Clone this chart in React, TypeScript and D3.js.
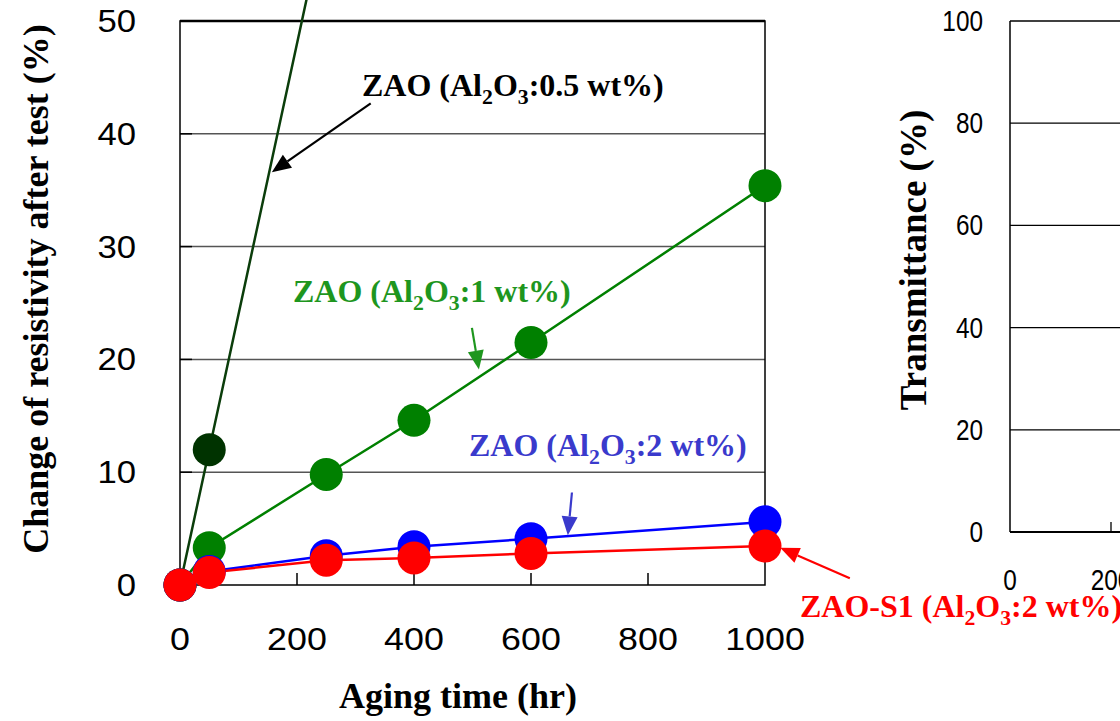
import * as d3 from "d3";
import React from "react";

// aging test data
const hours = [0, 50, 250, 400, 600, 1000];
const hours05 = [0, 50, 250];
const zao05 = [0, 12, 60];
const zao1 = [0, 3.3, 9.8, 14.6, 21.5, 35.4];
const zao2 = [0, 1.2, 2.6, 3.4, 4.1, 5.6];
const zaoS1 = [0, 1.1, 2.2, 2.4, 2.8, 3.45];

const xTicks = [0, 200, 400, 600, 800, 1000];
const yTicks = [0, 10, 20, 30, 40, 50];
const tTicks = [0, 20, 40, 60, 80, 100];
const tXTicks = [0, 200];

const serif = "'Liberation Serif', 'Times New Roman', serif";
const sans = "'Liberation Sans', Arial, sans-serif";

// label with Al2O3 subscripts
const Label = ({ x, y, pre, post, color, size }: any) => (
  <text x={x} y={y} fill={color} fontFamily={serif} fontWeight="bold" fontSize={size}>
    {pre}
    <tspan fontSize={size * 0.68} dy={8}>2</tspan>
    <tspan dy={-8}>O</tspan>
    <tspan fontSize={size * 0.68} dy={8}>3</tspan>
    <tspan dy={-8}>{post}</tspan>
  </text>
);

const Arrow = ({ x1, y1, x2, y2, color }: any) => {
  const a = Math.atan2(y2 - y1, x2 - x1);
  const L = 19, W = 8;
  const bx = x2 - L * Math.cos(a), by = y2 - L * Math.sin(a);
  const px = -Math.sin(a) * W, py = Math.cos(a) * W;
  return (
    <g>
      <line x1={x1} y1={y1} x2={bx} y2={by} stroke={color} strokeWidth={2.2} />
      <polygon points={`${x2},${y2} ${bx + px},${by + py} ${bx - px},${by - py}`} fill={color} />
    </g>
  );
};

export default function App() {
  const x = d3.scaleLinear().domain([0, 1000]).range([180, 765]);
  const y = d3.scaleLinear().domain([0, 50]).range([585, 21]);
  const tx = d3.scaleLinear().domain([0, 1000]).range([1010, 1515]);
  const ty = d3.scaleLinear().domain([0, 100]).range([532, 21]);

  const line = d3.line<number[]>().x((d) => x(d[0])).y((d) => y(d[1]));
  const pts = (hs: number[], vs: number[]) => hs.map((h, i) => [h, vs[i]]);

  const series = [
    { data: pts(hours05, zao05), line: "#0b3d0b", fill: "#003300" },
    { data: pts(hours, zao1), line: "#008000", fill: "#008000" },
    { data: pts(hours, zao2), line: "#0000ff", fill: "#0000ff" },
    { data: pts(hours, zaoS1), line: "#ff0000", fill: "#ff0000" },
  ];

  return (
    <svg width={1120} height={721} style={{ position: "absolute", left: 0, top: 0, background: "#fff" }}>
      {/* left chart grid */}
      {yTicks.slice(1, -1).map((t) => (
        <line key={t} x1={180} x2={765} y1={y(t)} y2={y(t)} stroke="#555" strokeWidth={1.5} />
      ))}
      {yTicks.slice(1, -1).map((t) => (
        <line key={"yt" + t} x1={180} x2={192} y1={y(t)} y2={y(t)} stroke="#000" strokeWidth={1.5} />
      ))}
      {xTicks.slice(1, -1).map((t) => (
        <line key={"xt" + t} x1={x(t)} x2={x(t)} y1={585} y2={573} stroke="#000" strokeWidth={1.5} />
      ))}
      <rect x={180} y={21} width={585} height={564} fill="none" stroke="#000" strokeWidth={1.5} />
      <line x1={180} x2={765} y1={21} y2={21} stroke="#000" strokeWidth={2.5} />

      {/* tick labels */}
      {yTicks.map((t) => (
        <text key={"yl" + t} transform={`translate(136,${y(t) + 11}) scale(1.12,1)`} textAnchor="end"
          fontFamily={sans} fontSize={31} fill="#000">{t}</text>
      ))}
      {xTicks.map((t) => (
        <text key={"xl" + t} transform={`translate(${x(t)},650) scale(1.12,1)`} textAnchor="middle"
          fontFamily={sans} fontSize={32} fill="#000">{t}</text>
      ))}

      {/* axis titles */}
      <text x={458} y={708} textAnchor="middle" fontFamily={serif} fontWeight="bold" fontSize={36}>Aging time (hr)</text>
      <text transform="translate(48,289) rotate(-90)" textAnchor="middle" fontFamily={serif} fontWeight="bold" fontSize={36}>
        Change of resistivity after test (%)
      </text>

      {/* series lines */}
      {series.map((s, i) => (
        <path key={"l" + i} d={line(s.data as any) || ""} fill="none" stroke={s.line} strokeWidth={2.5} />
      ))}
      {series.map((s, i) =>
        s.data.map((d, j) => (
          <circle key={`c${i}-${j}`} cx={x(d[0])} cy={y(d[1])} r={16.5} fill={s.fill} />
        ))
      )}

      {/* annotations */}
      <Label x={362} y={96} pre="ZAO (Al" post=":0.5 wt%)" color="#000" size={32} />
      <Arrow x1={x(326)} y1={y(42.7)} x2={x(157)} y2={y(36.6)} color="#000" />
      <Label x={293} y={302} pre="ZAO (Al" post=":1 wt%)" color="#1e961e" size={32} />
      <Arrow x1={x(499)} y1={y(22.8)} x2={x(511)} y2={y(19.1)} color="#1e961e" />
      <Label x={469} y={456} pre="ZAO (Al" post=":2 wt%)" color="#3a3acc" size={32} />
      <Arrow x1={x(670)} y1={y(8.2)} x2={x(663)} y2={y(4.4)} color="#3a3acc" />
      <Arrow x1={x(1145)} y1={y(0.6)} x2={x(1026)} y2={y(3.3)} color="#ff0000" />

      {/* right chart (transmittance) */}
      {tTicks.slice(1, -1).map((t) => (
        <line key={"tg" + t} x1={1010} x2={1120} y1={ty(t)} y2={ty(t)} stroke="#000" strokeWidth={1.3} />
      ))}
      <line x1={1010} x2={1120} y1={21} y2={21} stroke="#000" strokeWidth={1.5} />
      <line x1={1010} x2={1010} y1={21} y2={532} stroke="#000" strokeWidth={1.5} />
      <line x1={1010} x2={1120} y1={532} y2={532} stroke="#000" strokeWidth={2} />
      <line x1={tx(200)} x2={tx(200)} y1={532} y2={522} stroke="#000" strokeWidth={1.3} />
      {tTicks.map((t) => (
        <text key={"tl" + t} transform={`translate(983,${ty(t) + 10}) scale(0.84,1)`} textAnchor="end"
          fontFamily={sans} fontSize={29} fill="#000">{t}</text>
      ))}
      {tXTicks.map((t) => (
        <text key={"txl" + t} transform={`translate(${tx(t)},590) scale(0.84,1)`} textAnchor="middle"
          fontFamily={sans} fontSize={29} fill="#000">{t}</text>
      ))}
      <text transform="translate(926,260) rotate(-90)" textAnchor="middle" fontFamily={serif} fontWeight="bold" fontSize={37}>
        Transmittance (%)
      </text>

      <Label x={800} y={617} pre="ZAO-S1 (Al" post=":2 wt%)" color="#ff0000" size={32} />
    </svg>
  );
}
